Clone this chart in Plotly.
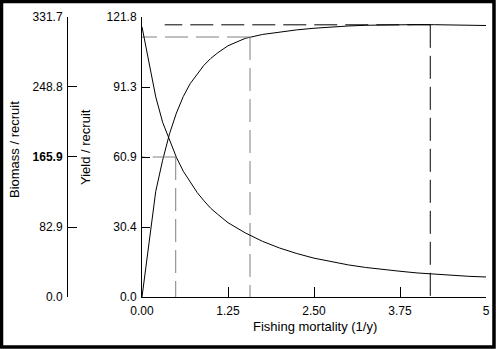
import plotly.graph_objects as go

# ---- data ----
F = [0, 0.2, 0.3, 0.4, 0.5, 0.6, 0.7, 0.8, 0.9, 1.0, 1.1, 1.25, 1.5, 1.75,
     2.0, 2.25, 2.5, 2.75, 3.0, 3.25, 3.5, 3.75, 4.0, 4.25, 4.5, 4.75, 5.0]
yield_per_recruit = [0, 46, 59.5, 71, 80, 87.2, 92.8, 97, 100.8, 103.8, 106.2,
                     109.3, 112.5, 114.2, 115.3, 116.2, 116.9, 117.5, 117.9,
                     118.2, 118.4, 118.5, 118.5, 118.45, 118.4, 118.3, 118.1]
biomass_per_recruit = [320, 237, 207, 185, 165.5, 149, 136, 124, 114, 105,
                       98, 88, 76, 66, 58, 51.5, 46, 42, 38, 35, 32.5, 30.5,
                       28.5, 27, 25.5, 24.5, 23.7]

x_ticks = [0, 1.25, 2.5, 3.75, 5]
x_tick_labels = ["0.00", "1.25", "2.50", "3.75", "5"]
yield_ticks = [0, 30.4, 60.9, 91.3, 121.8]
biomass_ticks = [0, 82.9, 165.9, 248.8, 331.7]
biomass_tick_labels = ["0.0", "82.9", "<b>165.9</b>", "248.8", "331.7"]

F_max, Y_max = 4.19, 118.4
F_01, Y_01 = 1.57, 113.1
F_05, Y_05 = 0.49, 60.9
F_max_line_start = 0.33

W, H = 496, 349
FONT = "Liberation Sans, Arial, sans-serif"

fig = go.Figure()
fig.add_trace(go.Scatter(x=F, y=yield_per_recruit, mode="lines",
                         line=dict(color="black", width=1)))
fig.add_trace(go.Scatter(x=F, y=biomass_per_recruit, mode="lines", yaxis="y2",
                         line=dict(color="black", width=1)))
# reference lines
gray = "#808080"
dash = "23px,8px"
fig.add_trace(go.Scatter(x=[F_max, F_max_line_start], y=[Y_max, Y_max], mode="lines",
                         line=dict(color="black", width=1, dash=dash)))
fig.add_trace(go.Scatter(x=[F_max, F_max], y=[Y_max, 0], mode="lines",
                         line=dict(color="black", width=1, dash=dash)))
fig.add_trace(go.Scatter(x=[F_01, 0], y=[Y_01, Y_01], mode="lines",
                         line=dict(color=gray, width=1, dash=dash)))
fig.add_trace(go.Scatter(x=[F_01, F_01], y=[Y_01, 0], mode="lines",
                         line=dict(color=gray, width=1, dash=dash)))
fig.add_trace(go.Scatter(x=[F_05, 0], y=[Y_05, Y_05], mode="lines",
                         line=dict(color=gray, width=1, dash=dash)))
fig.add_trace(go.Scatter(x=[F_05, F_05], y=[Y_05, 0], mode="lines",
                         line=dict(color=gray, width=1, dash=dash)))

x0, x1 = 142 / W, 486 / W
y0, y1 = (H - 297) / H, (H - 17) / H
tickfont = dict(family=FONT, size=12, color="black")
titlefont = dict(family=FONT, size=13, color="black")
axis_common = dict(showgrid=False, zeroline=False, showline=True, linecolor="black",
                   linewidth=1, ticks="inside", tickcolor="black", tickwidth=1,
                   tickfont=tickfont, fixedrange=True, automargin=False)

fig.update_layout(
    template="none",
    width=W, height=H,
    margin=dict(l=0, r=0, t=0, b=0, pad=0),
    paper_bgcolor="white", plot_bgcolor="white",
    showlegend=False,
    xaxis=dict(domain=[x0, x1], range=[0, 5], tickvals=x_ticks,
               ticktext=x_tick_labels, ticklen=10, ticklabelstandoff=3,
               **axis_common),
    yaxis=dict(domain=[y0, y1], range=[0, 121.8], tickvals=yield_ticks,
               ticktext=[f"{v:.1f}" for v in yield_ticks], ticklen=8,
               ticklabelstandoff=2, **axis_common),
    yaxis2=dict(range=[0, 331.7], overlaying="y", anchor="free", side="left",
                position=67 / W, tickvals=biomass_ticks,
                ticktext=biomass_tick_labels, ticklen=9, ticklabelstandoff=2,
                **axis_common),
    annotations=[
        dict(text="Fishing mortality (1/y)", x=315 / W, y=(H - 326) / H,
             xref="paper", yref="paper", showarrow=False,
             xanchor="center", yanchor="middle", font=titlefont),
        dict(text="Yield / recruit", x=85 / W, y=(H - 147) / H, textangle=-90,
             xref="paper", yref="paper", showarrow=False,
             xanchor="center", yanchor="middle", font=titlefont),
        dict(text="Biomass / recruit", x=14 / W, y=(H - 150) / H, textangle=-90,
             xref="paper", yref="paper", showarrow=False,
             xanchor="center", yanchor="middle", font=titlefont),
    ],
    shapes=[dict(type="rect", xref="paper", yref="paper",
                 x0=1.5 / W, x1=(W - 2) / W, y0=2 / H, y1=(H - 1.5) / H,
                 line=dict(color="black", width=3.5))],
)

fig.write_html("out.html")
